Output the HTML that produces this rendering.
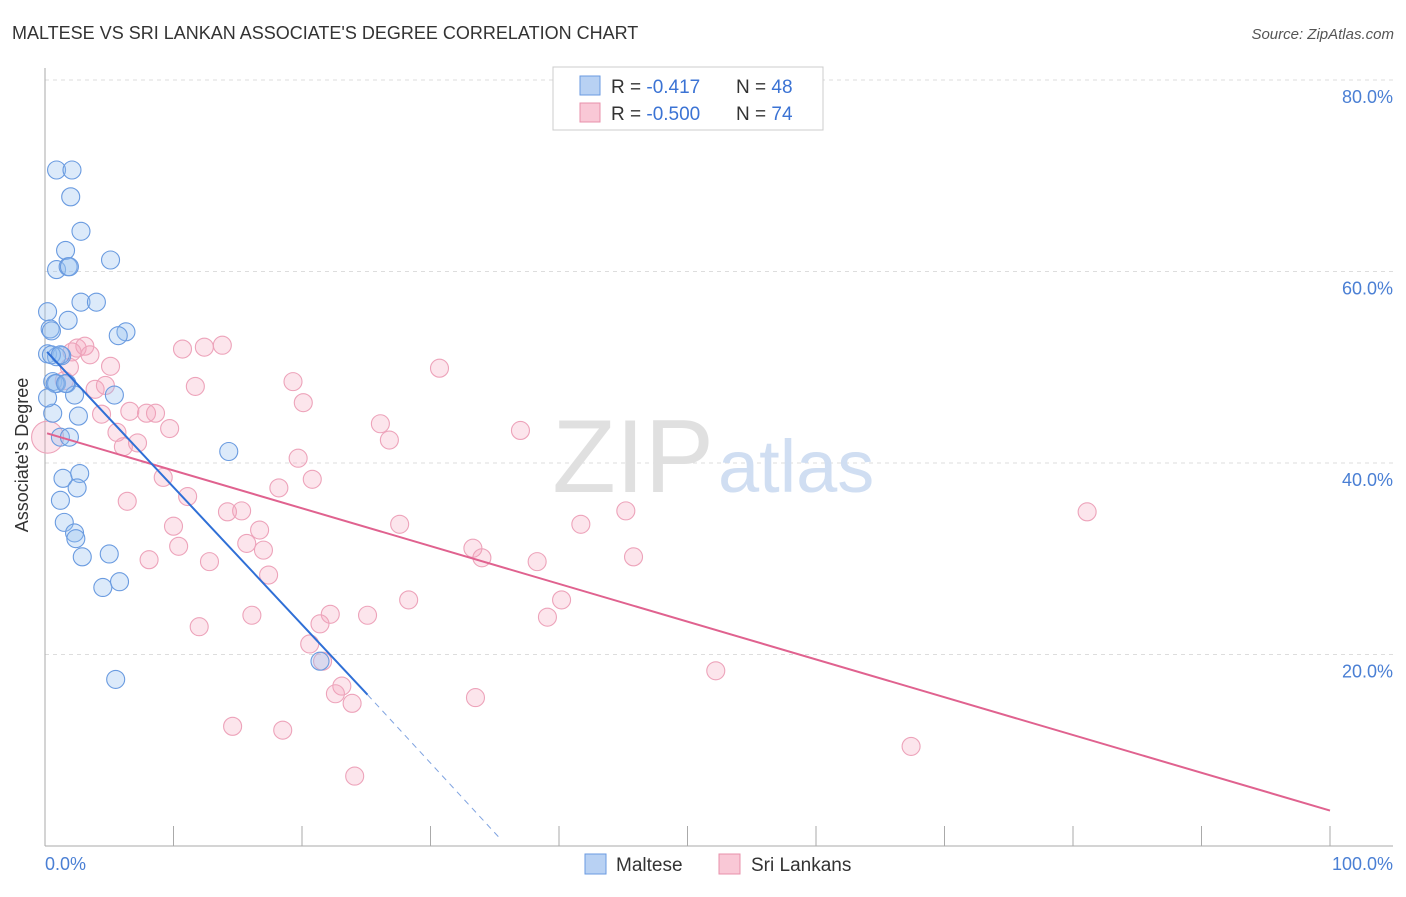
<!DOCTYPE html>
<html><head><meta charset="utf-8"><style>
body{margin:0;background:#fff;font-family:"Liberation Sans",sans-serif}
svg text{font-family:"Liberation Sans",sans-serif}
</style></head><body>
<svg width="1406" height="892" viewBox="0 0 1406 892">
<text x="12" y="39" font-size="18" fill="#333">MALTESE VS SRI LANKAN ASSOCIATE'S DEGREE CORRELATION CHART</text>
<text x="1394" y="39" font-size="15" fill="#555" font-style="italic" text-anchor="end">Source: ZipAtlas.com</text>
<g id="grid"></g>
<text x="714" y="492" font-size="104" fill="#e0e0e0" text-anchor="end" font-family="Liberation Serif">ZIP</text>
<text x="718" y="492" font-size="74" fill="#d0def2">atlas</text>
<g id="pts"></g>
<g id="lines"></g>
<text x="28" y="455" font-size="18" fill="#333" text-anchor="middle" transform="rotate(-90 28 455)">Associate's Degree</text>
<text x="45" y="870" font-size="18" fill="#4a7fd4">0.0%</text>
<text x="1393" y="870" font-size="18" fill="#4a7fd4" text-anchor="end">100.0%</text>
<g>
<rect x="553" y="67" width="270" height="63" fill="#fff" stroke="#ccc"/>
<rect x="580" y="76" width="20" height="19" fill="#b8d1f3" stroke="#6a9ae0"/>
<rect x="580" y="103" width="20" height="19" fill="#f9c8d6" stroke="#e890ab"/>
<text x="611" y="93" font-size="19" fill="#333">R = <tspan fill="#3b73d4">-0.417</tspan><tspan x="736">N = </tspan><tspan fill="#3b73d4">48</tspan></text>
<text x="611" y="120" font-size="19" fill="#333">R = <tspan fill="#3b73d4">-0.500</tspan><tspan x="736">N = </tspan><tspan fill="#3b73d4"> 74</tspan></text>
</g>
<g>
<rect x="585" y="854" width="21" height="20" fill="#b8d1f3" stroke="#6a9ae0"/>
<text x="616" y="871" font-size="19" fill="#333">Maltese</text>
<rect x="719" y="854" width="21" height="20" fill="#f9c8d6" stroke="#e890ab"/>
<text x="751" y="871" font-size="19" fill="#333">Sri Lankans</text>
</g>
</svg>
<script>
const yTicks=[20,40,60,80];
const xTicks=[0,10,20,30,40,50,60,70,80,90,100];
const malteseX=[0.9,2.1,2,2.8,1.6,5.1,0.9,1.8,1.9,2.8,4,0.2,1.8,0.4,0.5,6.3,5.7,0.2,1.3,0.9,0.6,0.9,1.7,5.4,2.3,0.6,2.6,14.3,1.2,1.9,1.4,2.7,2.5,1.2,1.5,2.3,2.4,2.9,5,4.5,5.8,5.5,21.4,0.5,0.8,0.2,1.2,1.6];
const malteseY=[70.6,70.6,67.8,64.2,62.2,61.2,60.2,60.5,60.5,56.8,56.8,55.8,54.9,54,53.8,53.7,53.3,51.4,51.2,51.1,48.5,48.3,48.3,47.1,47.1,45.2,44.9,41.2,42.7,42.7,38.4,38.9,37.4,36.1,33.8,32.7,32.1,30.2,30.5,27,27.6,17.4,19.3,51.3,48.3,46.8,51.3,48.3];
const lankanX=[0.2,2.5,3.1,2.1,3.5,1.9,1.5,5.1,3.9,4.7,10.7,12.4,13.8,11.7,19.3,30.7,6.6,7.9,8.6,4.4,9.7,5.6,6.1,7.2,20.1,26.1,26.8,37,9.2,19.7,20.8,18.2,11.1,6.4,10,15.3,14.2,16.7,27.6,41.7,45.2,81.1,10.4,15.7,17,33.3,34,38.3,45.8,8.1,12.8,17.4,40.2,28.3,22.2,25.1,16.1,21.4,39.1,12,20.6,21.6,52.2,23.1,22.6,23.9,33.5,14.6,18.5,67.4,24.1];
const lankanY=[42.7,52,52.2,51.6,51.3,50,48.6,50.1,47.7,48.1,51.9,52.1,52.3,48,48.5,49.9,45.4,45.2,45.2,45.1,43.6,43.2,41.7,42.1,46.3,44.1,42.4,43.4,38.5,40.5,38.3,37.4,36.5,36,33.4,35,34.9,33,33.6,33.6,35,34.9,31.3,31.6,30.9,31.1,30.1,29.7,30.2,29.9,29.7,28.3,25.7,25.7,24.2,24.1,24.1,23.2,23.9,22.9,21.1,19.3,18.3,16.7,15.9,14.9,15.5,12.5,12.1,10.4,7.3];
const malteseTrend=[[0.16,51.6],[25.1,15.8]];
const malteseDash=[[25.1,15.8],[35.4,0.8]];
const lankanTrend=[[0.16,43.1],[100,3.7]];
const NS='http://www.w3.org/2000/svg';
const X=v=>45+v*12.85, Y=v=>846-v*9.575;
function mk(t,a,p){const e=document.createElementNS(NS,t);for(const k in a)e.setAttribute(k,a[k]);p.appendChild(e);return e;}
const grid=document.getElementById('grid');
yTicks.forEach(t=>{
 const l=mk('line',{x1:45,x2:1393,y1:Y(t),y2:Y(t),stroke:'#ddd','stroke-dasharray':'4,4'},grid);
 
 
 const tx=mk('text',{x:1393,y:Y(t)+23,'font-size':18,fill:'#4a7fd4','text-anchor':'end'},grid);
 tx.textContent=t.toFixed(1)+'%';
 
 
});
const ax=mk('line',{x1:45,x2:45,y1:68,y2:846,stroke:'#aaa'},grid);


const bx=mk('line',{x1:45,x2:1393,y1:846,y2:846,stroke:'#aaa'},grid);


xTicks.forEach(t=>{
 const l=mk('line',{x1:X(t),x2:X(t),y1:826,y2:846,stroke:'#aaa'},grid);
 
 
});
const pts=document.getElementById('pts');
lankanX.forEach((v,i)=>{
 const c=mk('circle',{cx:X(v),cy:Y(lankanY[i]),r:i==0?16:9,fill:'rgba(244,160,186,0.28)',stroke:'#eda3ba','stroke-width':1.1},pts);
 
 
});
malteseX.forEach((v,i)=>{
 const c=mk('circle',{cx:X(v),cy:Y(malteseY[i]),r:9,fill:'rgba(150,190,240,0.33)',stroke:'#6a9be0','stroke-width':1.1},pts);
 
 
});
const ln=document.getElementById('lines');
function line(p,st,w,dash){const e=mk('line',{x1:X(p[0][0]),y1:Y(p[0][1]),x2:X(p[1][0]),y2:Y(p[1][1]),stroke:st,'stroke-width':w},ln);if(dash)e.setAttribute('stroke-dasharray',dash);return e;}
const l1=line(lankanTrend,'#e0628f',2);


const l2=line(malteseTrend,'#2f6fd6',2);


const l3=line(malteseDash,'#7fa3e0',1,'6,5');


</script>
</body></html>
